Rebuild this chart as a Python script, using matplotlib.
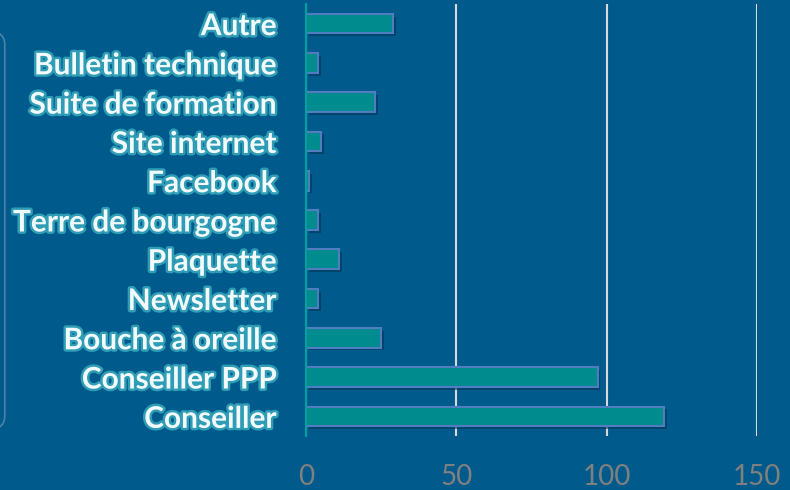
import matplotlib
matplotlib.use("Agg")
import matplotlib.pyplot as plt
import matplotlib.patheffects as pe
from matplotlib.patches import FancyBboxPatch

# Donnees
categories = ["Conseiller", "Conseiller PPP", "Bouche à oreille", "Newsletter",
              "Plaquette", "Terre de bourgogne", "Facebook", "Site internet",
              "Suite de formation", "Bulletin technique", "Autre"]
valeurs = [119, 97, 25, 4, 11, 4, 1, 5, 23, 4, 29]
x_ticks = [0, 50, 100, 150]

fond = "#005B8C"

fig = plt.figure(figsize=(7.9, 4.9), dpi=100, facecolor=fond)

# cadre arrondi discret a gauche
cadre = FancyBboxPatch((-0.05, 0.12), 0.056, 0.82, boxstyle="round,pad=0,rounding_size=0.03",
                       transform=fig.transFigure, facecolor="none",
                       edgecolor="#5E8DB0", linewidth=1.2, alpha=0.8)
fig.patches.append(cadre)

ax = fig.add_axes([306 / 790, 1 - 436 / 490, (757 - 306) / 790, (436 - 4) / 490])
ax.set_facecolor(fond)

pos = range(len(categories))
ombre = [pe.SimplePatchShadow(offset=(2, -2), shadow_rgbFace="#003355", alpha=0.6), pe.Normal()]
ax.barh(pos, valeurs, height=0.5, color="#008B8F", edgecolor="#4F7DC0",
        linewidth=1.5, zorder=3, path_effects=ombre)

ax.set_xlim(0, 150)
ax.set_ylim(-0.5, len(categories) - 0.5)
ax.set_xticks(x_ticks)
ax.xaxis.grid(True, color="#D9D9D9", linewidth=1.5, zorder=0)
ax.set_axisbelow(True)

for s in ["top", "right", "bottom"]:
    ax.spines[s].set_visible(False)
ax.spines["left"].set_color("#00A0A0")
ax.spines["left"].set_linewidth(1.5)
ax.spines["left"].set_zorder(4)

ax.set_yticks(list(pos))
ax.set_yticklabels(categories, fontfamily="Lato", fontweight="bold", fontsize=21.5,
                   color="#F2FAFC")
for t in ax.get_yticklabels():
    t.set_path_effects([pe.withStroke(linewidth=3.5, foreground="#2E9DB5")])

ax.tick_params(axis="y", length=0, pad=21)
ax.tick_params(axis="x", length=0, pad=20, labelsize=20, labelcolor="#808080")
for t in ax.get_xticklabels():
    t.set_fontfamily("Lato")

fig.savefig("out.png", dpi=100, facecolor=fond)
